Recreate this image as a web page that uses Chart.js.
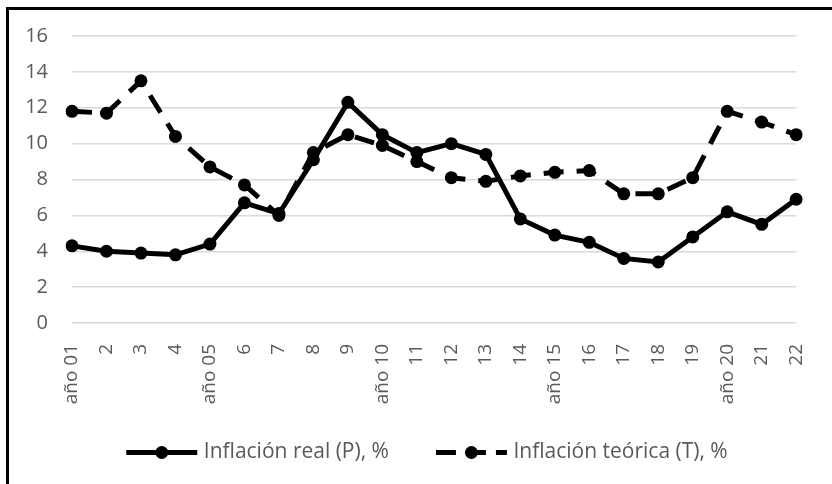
<!DOCTYPE html>
<html>
<head>
<meta charset="utf-8">
<script src="https://cdn.jsdelivr.net/npm/chart.js@4"></script>
<style>
  html, body { margin: 0; padding: 0; background: #fff; }
  body { width: 832px; height: 484px; position: relative; overflow: hidden; }
  #frame { position: absolute; left: 6px; top: 7px; width: 900px; height: 600px; border-left: 3px solid #000; border-top: 3px solid #000; }
  #chart { position: absolute; left: 0; top: 0; }
</style>
</head>
<body>
<div id="frame"></div>
<canvas id="chart" width="832" height="484"></canvas>
<script>
const years = ['año 01', '2', '3', '4', 'año 05', '6', '7', '8', '9', 'año 10', '11',
  '12', '13', '14', 'año 15', '16', '17', '18', '19', 'año 20', '21', '22'];

const realInflation = [4.3, 4.0, 3.9, 3.8, 4.4, 6.7, 6.1, 9.1, 12.3, 10.5, 9.5,
  10.0, 9.4, 5.8, 4.9, 4.5, 3.6, 3.4, 4.8, 6.2, 5.5, 6.9];

const theoreticalInflation = [11.8, 11.7, 13.5, 10.4, 8.7, 7.7, 6.0, 9.5, 10.5, 9.9, 9.0,
  8.1, 7.9, 8.2, 8.4, 8.5, 7.2, 7.2, 8.1, 11.8, 11.2, 10.5];

const seriesNames = ['Inflación real (P), %', 'Inflación teórica (T), %'];

const textColor = '#595959';
const gridColor = '#d9d9d9';
const fontFamily = "'Open Sans', sans-serif";

// nudge the legend a bit right and up, like in the original
const legendShift = {
  id: 'legendShift',
  afterLayout(chart) {
    const legend = chart.legend;
    legend.left += 12;
    legend.right += 12;
    legend.top -= 10;
    legend.bottom -= 10;
  }
};

// draws the legend sample: thick line with a round marker
const legendSample = {
  id: 'legendSample',
  afterDraw(chart) {
    const legend = chart.legend;
    const ctx = chart.ctx;
    legend.legendItems.forEach((item, i) => {
      const box = legend.legendHitBoxes[i];
      const ds = chart.data.datasets[item.datasetIndex];
      const y = box.top + box.height / 2;
      const x0 = box.left;
      const x1 = box.left + 71;
      ctx.save();
      ctx.strokeStyle = '#000';
      ctx.fillStyle = '#000';
      ctx.lineWidth = 5;
      ctx.setLineDash(ds.borderDash ? [20, 10] : []);
      ctx.beginPath();
      ctx.moveTo(x0, y);
      ctx.lineTo(x1, y);
      ctx.stroke();
      ctx.setLineDash([]);
      ctx.beginPath();
      ctx.arc((x0 + x1) / 2, y, 6.5, 0, Math.PI * 2);
      ctx.fill();
      ctx.restore();
    });
  }
};

const ctx = document.getElementById('chart').getContext('2d');

new Chart(ctx, {
  type: 'line',
  data: {
    labels: years,
    datasets: [{
      label: seriesNames[0],
      data: realInflation,
      borderColor: '#000',
      backgroundColor: '#000',
      borderWidth: 5,
      pointRadius: 6.5,
      pointBorderWidth: 0,
      tension: 0,
      fill: false
    }, {
      label: seriesNames[1],
      data: theoreticalInflation,
      borderColor: '#000',
      backgroundColor: '#000',
      borderWidth: 5,
      borderDash: [20, 13],
      pointRadius: 6.5,
      pointBorderWidth: 0,
      tension: 0,
      fill: false
    }]
  },
  options: {
    responsive: false,
    animation: false,
    layout: {
      padding: { top: 36, left: 20, right: 22, bottom: 1 }
    },
    plugins: {
      tooltip: { enabled: false },
      legend: {
        position: 'bottom',
        labels: {
          boxWidth: 67,
          boxHeight: 6,
          padding: 47,
          color: textColor,
          font: { family: fontFamily, size: 21 },
          generateLabels(chart) {
            return chart.data.datasets.map((ds, i) => ({
              text: ds.label,
              fillStyle: 'rgba(0,0,0,0)',
              strokeStyle: 'rgba(0,0,0,0)',
              lineWidth: 0,
              fontColor: textColor,
              datasetIndex: i
            }));
          }
        }
      }
    },
    scales: {
      x: {
        grid: { display: false },
        border: { display: false },
        afterFit(scale) { scale.height = 82; },
        ticks: {
          autoSkip: false,
          minRotation: 90,
          maxRotation: 90,
          padding: 13,
          color: textColor,
          font: { family: fontFamily, size: 19 }
        }
      },
      y: {
        min: 0,
        max: 16,
        border: { display: false },
        grid: { color: gridColor, lineWidth: 1.5, drawTicks: false },
        afterFit(scale) { scale.width = 52; },
        ticks: {
          stepSize: 2,
          padding: 24,
          color: textColor,
          font: { family: fontFamily, size: 20 }
        }
      }
    }
  },
  plugins: [legendShift, legendSample]
});
</script>
</body>
</html>
